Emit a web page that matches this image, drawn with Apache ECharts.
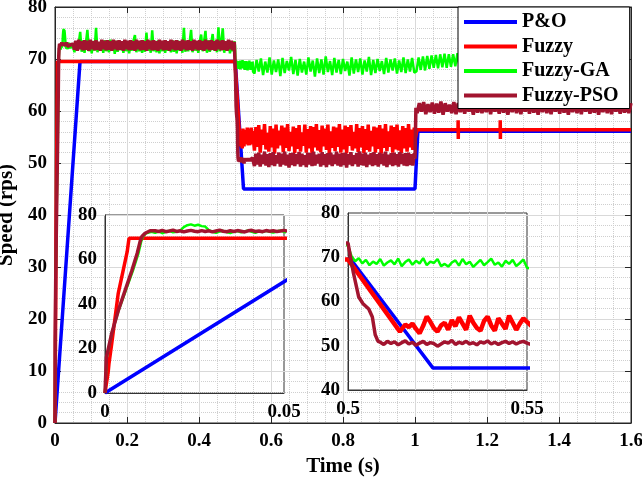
<!DOCTYPE html>
<html><head><meta charset="utf-8">
<script src="https://cdn.jsdelivr.net/npm/echarts@6/dist/echarts.min.js"></script>
<style>html,body{margin:0;padding:0;background:#fff}#c{width:642px;height:482px}</style>
</head><body><div id="c"></div>
<script>
// ---------- DATA ----------
const seriesNames = ['P&O', 'Fuzzy', 'Fuzzy-GA', 'Fuzzy-PSO'];

// P&O
const poTime  = [0, 0.0695, 0.5008, 0.5237, 1.0, 1.008, 1.6];
const poSpeed = [0, 69.5, 69.5, 45, 45, 56.1, 56.1];

// Fuzzy
const fuzzyStartTime  = [0, 0.0009, 0.0011, 0.0019, 0.0037, 0.0062, 0.0065, 0.0067, 0.5, 0.5145];
const fuzzyStartSpeed = [0, 9.6, 13, 22.5, 44.8, 63.5, 64, 69.5, 69.5, 53.2];
const fuzzyRippleFine = [53.5,54.8,54.2,55.0,53.8,52.8,54.5,56.6,55.4,54.0,53.2,54.6,55.2,53.6,55.8,54.4,56.4,55.0,53.6,56.8,55.2,54.0,53.4,55.6,56.6,54.6,53.4,56.2,55.0,53.8,56.8,55.2,53.6,55.0,56.2,55.4]; // from 0.515 step 0.001
const fuzzyRipple = [
52.4,56.9,53.1,57.3,52.0,56.4,53.5,57.5,52.6,55.8,
52.2,57.1,53.0,56.6,51.8,57.4,52.8,56.2,53.4,57.2,
52.1,56.8,52.9,57.5,52.3,56.0,53.2,57.0,51.9,56.7,
52.7,57.3,52.2,55.9,53.3,57.4,52.0,56.5,52.8,57.1,
51.7,56.9,53.0,57.5,52.4,56.3,52.1,57.2,53.2,56.6,
52.5,57.4,51.9,56.1,52.9,57.0,52.3,56.8,53.1,57.5,
52.0,56.4,52.6,57.2,51.8,56.9,53.3,57.3,52.4,56.0,
52.8,57.5,52.1,56.7,53.0,57.1,51.9,56.5,52.5,57.4,
52.2,56.2,53.2,57.0,52.0,56.8,52.7,57.3,51.8,56.6,
52.9,57.5,52.3,56.1,53.1,57.2,52.0,56.9,52.6,57.4,
52.4,56.3,51.9,57.1,52.8,56.7,52.2,57.5,53.0,56.4,
52.5,56.8]; // from 0.554 step 0.004
const fuzzyEndTime  = [1.0, 1.006, 1.1195, 1.1198, 1.1202, 1.1205, 1.2365, 1.2368, 1.2372, 1.2375, 1.6];
const fuzzyEndSpeed = [54.5, 56.4, 56.4, 58.2, 54.6, 56.4, 56.4, 58.2, 54.6, 56.4, 56.4];

// Fuzzy-GA
const gaStartTime  = [0, 0.0005, 0.0019, 0.0038, 0.0058, 0.0078, 0.0093, 0.0101, 0.0106, 0.0115, 0.013];
const gaStartSpeed = [0, 16, 27, 37, 46, 55, 62.5, 68, 70.3, 71.8, 72.5];
const gaNoiseFine1 = [72.0,72.6,71.8,72.4,72.9,72.2,72.5,73.0,74.6,75.4,75.8,75.2,75.6,75.0,74.8,73.2,72.4,72.0,72.6,72.9,72.3,71.9,72.5,72.8,72.2,72.6,73.1,72.4,72.0,72.7,72.3,72.9,72.5,72.1,72.6,73.0,72.4]; // 0.014 step 0.001
const gaNoise1 = [
71.3,73.4,71.6,73.0,75.2,71.4,73.6,71.2,73.1,75.6,
71.5,73.3,71.1,73.5,71.6,76.0,71.3,73.2,71.7,73.4,
71.2,73.6,71.5,73.1,71.3,73.7,71.6,73.2,71.0,73.5,
71.4,73.3,71.7,73.0,71.2,73.6,71.5,73.4,71.1,73.2,
71.6,73.5,74.6,71.3,73.4,71.5,73.1,71.2,73.6,71.4,
75.1,71.6,73.3,71.2,75.5,71.5,73.4,71.3,73.6,71.1,
73.2,71.5,73.5,71.2,73.3,71.6,73.0,71.3,73.6,71.4,
73.2,71.1,73.5,71.6,73.3,71.2,76.0,71.4,73.4,71.5,
73.2,75.6,71.3,73.5,71.6,73.1,71.2,73.4,74.7,71.5,
73.3,75.4,71.2,73.6,71.4,73.2,74.8,71.6,73.5,71.3,
76.1,71.5,73.4,75.9,71.2,73.3,71.6,73.5,71.1,73.2,
71.5,73.4]; // 0.054 step 0.004
const gaDropTime = [0.5];
const gaDropSpeed = [72.6];
const gaNoiseFine2 = [70.2,69.1,69.8,68.6,69.4,68.2,69.0,68.5,69.6,68.1,68.8,69.3,68.4,69.7,68.0,68.9,69.5,68.3,69.2,68.6,69.8,68.2,69.0,68.7,69.6,68.0,68.5,67.9,68.8,69.3,68.1,69.6,68.4,69.0,67.8,68.6,69.4,68.2,68.9,69.7,68.3,68.8,67.9,69.2,68.5,69.4,68.0,68.7,69.5,67.6]; // 0.501 step 0.001
const gaNoise2 = [
67.2,69.8,67.6,70.1,66.9,69.5,67.4,70.3,67.0,69.7,
67.5,69.9,66.7,70.2,67.3,69.6,67.8,70.4,67.1,69.8,
66.8,70.0,67.4,69.5,67.0,70.3,67.6,69.7,66.6,70.1,
67.3,69.9,67.0,70.5,67.5,69.6,66.9,70.2,67.4,69.8,
67.1,70.0,67.7,69.5,66.8,70.3,67.2,69.9,67.5,70.1,
67.0,69.7,67.6,70.4,66.9,69.8,67.3,70.0,67.7,69.6,
67.1,70.2,67.4,69.9,67.8,70.1,67.2,69.7,67.5,70.3,
67.3,69.9,67.6,70.2,67.4,
67.6,70.3,67.9,70.5,67.8,70.6,68.1,70.7,68.3,70.8,68.2,70.9,68.4,71.0,68.3,70.9,68.5,
70.9,68.6,71.1,68.4,70.8,68.7,71.2,68.5,70.9,68.3,
71.0,68.8,70.7,68.5,71.2,68.6,70.9,68.4,71.1,68.7,
70.8,68.5,71.0,68.9,70.6,68.4,71.2,68.6,70.9,68.3,
71.1,68.7,70.8,68.5,71.0,68.6,70.9,68.4,71.2,68.8,
70.7,68.5,71.0,68.3,70.9,68.6,71.1,68.7,70.8,68.5,
71.2,68.4,70.9,68.6,71.0,68.8,70.7,68.5,71.1,68.4,
70.9,68.7,71.0,68.5,70.8,68.6,71.2,68.3,70.9,68.7,
71.0,68.5,70.8]; // 0.554 step 0.006

// Fuzzy-PSO
const psoStartTime  = [0, 0.0004, 0.0019, 0.0037, 0.0056, 0.0075, 0.009, 0.0098, 0.0103, 0.0112, 0.0126];
const psoStartSpeed = [0, 16, 27, 37, 46, 55, 62.8, 68, 70.3, 71.8, 72.9];
const psoNoiseFine1 = [72.9,72.6,73.1,72.5,72.8,73.2,72.6,72.9,72.4,72.8,73.1,72.7,72.5,73.0,72.6,72.9,72.4,72.8,73.2,72.7,72.5,72.9,72.6,73.0,72.7,72.4,72.9,73.1,72.6,72.8,72.5,73.0,72.7,72.9,72.6,72.8,73.1]; // 0.014 step 0.001
const psoNoise1 = [
71.8,73.5,71.6,73.7,71.9,73.4,71.7,73.6,71.8,73.5,
71.6,73.7,71.9,73.4,71.7,73.6,71.8,73.3,71.6,73.7,
71.9,73.5,71.7,73.6,71.8,73.4,71.6,73.7,71.9,73.5,
71.7,73.6,71.8,73.4,71.6,73.7,71.9,73.5,71.7,73.6,
71.8,73.4,71.6,73.7,71.9,73.5,71.7,73.6,71.8,73.4,
71.6,73.7,71.9,73.5,71.7,73.6,71.8,73.4,71.6,73.7,
71.9,73.5,71.7,73.6,71.8,73.4,71.6,73.7,71.9,73.5,
71.7,73.6,71.8,73.4,71.6,73.7,71.9,73.5,71.7,73.6,
71.8,73.4,71.6,73.7,71.9,73.5,71.7,73.6,71.8,73.4,
71.6,73.7,71.9,73.5,71.7,73.6,71.8,73.4,71.6,73.7,
71.9,73.5,71.7,73.6,71.8,73.4,71.6,73.7,71.9,73.5,
71.7,73.3]; // 0.054 step 0.004
const psoDropTime  = [0.5, 0.5015, 0.503, 0.5042, 0.5058, 0.5068, 0.5076, 0.5084];
const psoDropSpeed = [73.2, 66.5, 61, 59.5, 58.3, 56.5, 52.5, 51.0];
const psoNoiseFine2 = [50.8,50.3,51.0,50.5,50.9,50.2,50.7,51.1,50.4,50.8,50.1,50.6,51.0,50.3,50.7,50.5,49.9,50.4,50.9,50.6,51.2,50.3,50.8,50.5,51.0,50.4,50.7,50.2,50.9,50.6,51.1,50.4,50.8,50.3,50.7,51.0,50.5,50.9,50.4,50.8,51.0,50.6]; // 0.509 step 0.001
const psoNoise2 = [
49.4,51.8,49.7,52.0,49.3,51.6,49.8,52.2,49.5,51.7,
49.2,51.9,49.6,52.1,49.4,51.5,49.9,52.0,49.3,51.8,
49.7,52.2,49.5,51.6,49.1,51.9,49.6,52.0,49.4,51.7,
49.8,52.1,49.3,51.8,49.6,51.5,49.2,52.0,49.7,51.9,
49.4,52.2,49.5,51.6,49.9,51.8,49.3,52.1,49.6,51.7,
49.2,51.9,49.7,52.0,49.4,51.6,49.8,52.2,49.5,51.8,
49.3,51.9,49.6,52.0,49.1,51.7,49.7,52.1,49.4,51.5,
49.8,51.9,49.3,52.2,49.6,51.8,49.5,52.0,49.2,51.6,
49.7,51.9,49.4,52.1,49.6,51.7,49.3,52.0,49.8,51.8,
49.5,52.2,49.2,51.6,49.7,51.9,49.4,52.0,49.6,51.7,
49.3,52.1,49.8,51.8,49.5,51.9,49.4,52.0,49.6,51.7,
49.5,51.9]; // 0.554 step 0.004
const psoStepTime  = [1.0, 1.0025];
const psoStepSpeed = [50.8, 60.6];
const psoNoise3 = [
59.6,61.5,59.9,61.7,59.4,61.3,59.8,61.6,59.5,61.4,
59.7,61.8,59.3,61.5,59.9,61.2,59.6,61.7,59.4,61.5,
59.8,61.3,59.5,61.6,59.9,61.4,59.3,61.7,59.7,61.5,
59.6,61.2,59.8,61.6,59.4,61.5,59.9,61.3,59.5,61.8,
59.7,61.4,59.3,61.6,59.8,61.5,59.6,61.7,59.4,61.3,
59.9,61.5,59.5,61.6,59.7,61.4,59.3,61.8,59.8,61.5,
59.6,61.2,59.4,61.6,59.9,61.5,59.5,61.7,59.7,61.3,
59.3,61.5,59.8,61.6,59.6,61.4,59.4,61.7,59.9,61.5,
59.5,61.3,59.7,61.6,59.3,61.5,59.8,61.7,59.6,61.4,
59.4,61.6,59.9,61.3,59.5,61.5,59.7,61.6,59.6,61.5]; // 1.006 step 0.006

// ---------- BUILD ----------
function pts(times, speeds) { return times.map((t, i) => [t, speeds[i]]); }
function sampled(t0, dt, vals) { return vals.map((v, i) => [+(t0 + i * dt).toFixed(5), v]); }

const dataPO = pts(poTime, poSpeed);
const dataFuzzy = [].concat(
  pts(fuzzyStartTime, fuzzyStartSpeed),
  sampled(0.515, 0.001, fuzzyRippleFine),
  sampled(0.554, 0.004, fuzzyRipple),
  pts(fuzzyEndTime, fuzzyEndSpeed));
const dataGA = [].concat(
  pts(gaStartTime, gaStartSpeed),
  sampled(0.014, 0.001, gaNoiseFine1),
  sampled(0.054, 0.004, gaNoise1),
  pts(gaDropTime, gaDropSpeed),
  sampled(0.501, 0.001, gaNoiseFine2),
  sampled(0.554, 0.006, gaNoise2));
const dataPSO = [].concat(
  pts(psoStartTime, psoStartSpeed),
  sampled(0.014, 0.001, psoNoiseFine1),
  sampled(0.054, 0.004, psoNoise1),
  pts(psoDropTime, psoDropSpeed),
  sampled(0.509, 0.001, psoNoiseFine2),
  sampled(0.554, 0.004, psoNoise2),
  pts(psoStepTime, psoStepSpeed),
  sampled(1.006, 0.006, psoNoise3));

const allData = [dataPO, dataFuzzy, dataGA, dataPSO];
const colors = ['#0000FF', '#FF0000', '#00FF00', '#A2142F'];
const widths = [3.5, 3.5, 2.5, 3.5];

const FONT = "'Liberation Serif','Times New Roman',serif";
const lbl = { fontFamily: FONT, fontWeight: 'bold', fontSize: 19, color: '#000' };
const fmt = v => String(Math.round(v * 1000) / 1000);

const series = [];
for (let g = 0; g < 3; g++) {
  for (let s = 0; s < 4; s++) {
    series.push({
      type: 'line', name: seriesNames[s], xAxisIndex: g, yAxisIndex: g,
      data: allData[s], showSymbol: false, symbol: 'none', animation: false,
      clip: true,
      lineStyle: { color: colors[s], width: (g === 2 && s === 1) ? 4.5 : widths[s] },
      itemStyle: { color: colors[s] }
    });
  }
}

const insetAxisLine = { show: true, onZero: false, lineStyle: { color: '#333', width: 1 } };
const gridBase = { show: true, containLabel: false, outerBoundsMode: 'none' };
const option = {
  backgroundColor: '#fff',
  animation: false,
  grid: [
    Object.assign({ left: 55, right: 11, top: 7, bottom: 59, borderColor: '#262626', borderWidth: 1 }, gridBase),
    Object.assign({ left: 105, width: 179, top: 215, height: 178, borderColor: '#333', borderWidth: 1 }, gridBase),
    Object.assign({ left: 348, width: 179, top: 213, height: 177, borderColor: '#333', borderWidth: 1 }, gridBase)
  ],
  legend: {
    data: seriesNames, left: 458, top: 7, orient: 'vertical', icon: 'rect',
    itemWidth: 53, itemHeight: 4, itemGap: 4.5, padding: [5, 11, 3, 6],
    backgroundColor: '#fff', borderColor: '#000', borderWidth: 1, borderRadius: 0,
    selectedMode: false,
    textStyle: { fontFamily: FONT, fontWeight: 'bold', fontSize: 20, color: '#000', lineHeight: 20 }
  },
  xAxis: [
    { gridIndex: 0, type: 'value', min: 0, max: 1.6, interval: 0.2,
      axisLine: { show: true, onZero: false, lineStyle: { color: '#262626' } },
      axisTick: { show: true, inside: true, length: 6, lineStyle: { color: '#262626' } },
      axisLabel: Object.assign({ margin: 9, formatter: fmt }, lbl),
      splitLine: { show: true, lineStyle: { color: '#d9d9d9', width: 1 } },
      minorTick: { show: false, splitNumber: 4 },
      minorSplitLine: { show: true, lineStyle: { color: '#cfcfcf', type: 'dotted', width: 1 } },
      name: 'Time (s)', nameLocation: 'middle', nameGap: 31,
      nameTextStyle: { fontFamily: FONT, fontWeight: 'bold', fontSize: 21, color: '#000' } },
    { gridIndex: 1, type: 'value', min: 0, max: 0.05, interval: 0.05,
      axisLine: insetAxisLine, axisTick: { show: false },
      axisLabel: Object.assign({ margin: 10, formatter: fmt }, lbl),
      splitLine: { show: false } },
    { gridIndex: 2, type: 'value', min: 0.5, max: 0.55, interval: 0.05,
      axisLine: insetAxisLine, axisTick: { show: false },
      axisLabel: Object.assign({ margin: 10, formatter: fmt }, lbl),
      splitLine: { show: false } },
    { gridIndex: 0, type: 'value', position: 'top', min: 0, max: 1.6, interval: 0.2,
      axisLine: { show: true, onZero: false, lineStyle: { color: '#262626' } },
      axisTick: { show: true, inside: true, length: 6, lineStyle: { color: '#262626' } },
      axisLabel: { show: false }, splitLine: { show: false } }
  ],
  yAxis: [
    { gridIndex: 0, type: 'value', min: 0, max: 80, interval: 10,
      axisLine: { show: true, onZero: false, lineStyle: { color: '#262626' } },
      axisTick: { show: true, inside: true, length: 6, lineStyle: { color: '#262626' } },
      axisLabel: Object.assign({ margin: 8 }, lbl),
      splitLine: { show: true, lineStyle: { color: '#d9d9d9', width: 1 } },
      minorTick: { show: false, splitNumber: 5 },
      minorSplitLine: { show: true, lineStyle: { color: '#cfcfcf', type: 'dotted', width: 1 } },
      name: 'Speed (rps)', nameLocation: 'middle', nameGap: 34,
      nameTextStyle: { fontFamily: FONT, fontWeight: 'bold', fontSize: 21, color: '#000' } },
    { gridIndex: 1, type: 'value', min: 0, max: 80, interval: 20,
      axisLine: insetAxisLine, axisTick: { show: false },
      axisLabel: Object.assign({ margin: 8 }, lbl), splitLine: { show: false } },
    { gridIndex: 2, type: 'value', min: 40, max: 80, interval: 10,
      axisLine: insetAxisLine, axisTick: { show: false },
      axisLabel: Object.assign({ margin: 8 }, lbl), splitLine: { show: false } },
    { gridIndex: 0, type: 'value', position: 'right', min: 0, max: 80, interval: 10,
      axisLine: { show: true, onZero: false, lineStyle: { color: '#262626' } },
      axisTick: { show: true, inside: true, length: 6, lineStyle: { color: '#262626' } },
      axisLabel: { show: false }, splitLine: { show: false } }
  ],
  series: series
};

const chart = echarts.init(document.getElementById('c'), null, { renderer: 'canvas' });
chart.setOption(option);
</script>
</body></html>
